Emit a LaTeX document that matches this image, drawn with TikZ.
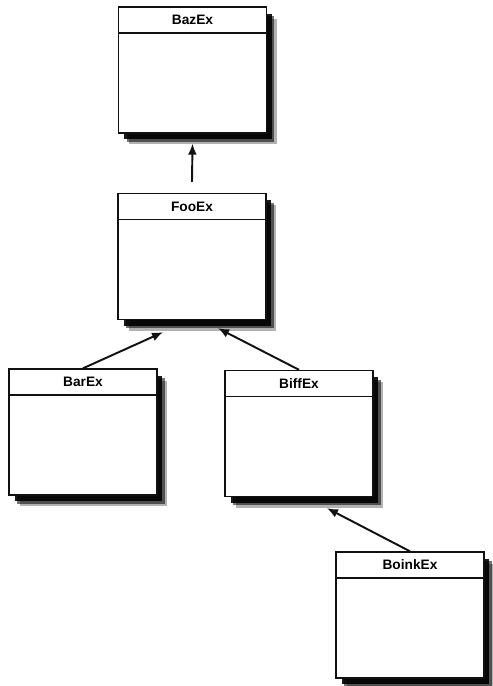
\documentclass[tikz,border=0pt]{standalone}
\usepackage{fontspec}
\setmainfont{Liberation Sans}
\usetikzlibrary{arrows.meta,positioning,shadows}
\definecolor{umlink}{HTML}{111111}
\tikzset{
  classbox/.style={draw=umlink,fill=white,line width=0.8pt,minimum width=2.96cm,minimum height=2.52cm,inner sep=0pt,
    drop shadow={shadow xshift=0.21cm,shadow yshift=-0.23cm,fill=black,opacity=0.3},
    drop shadow={shadow xshift=0.16cm,shadow yshift=-0.18cm,fill=black,opacity=0.55},
    drop shadow={shadow xshift=0.11cm,shadow yshift=-0.13cm,fill=black,opacity=0.9}},
  classname/.style={draw=umlink,line width=0.8pt,minimum width=2.96cm,minimum height=0.52cm,inner sep=0pt,anchor=north,font=\fontsize{7.8}{9}\selectfont\bfseries},
  inh/.style={-{Latex[length=2.2mm,width=1.8mm]},draw=umlink,line width=1.1pt},
}
\begin{document}
\begin{tikzpicture}[x=0.02cm,y=-0.02cm]
  \useasboundingbox (0,0) rectangle (493,686);
  % classes
  \node[classbox] (baz) at (192.5,70) {};
  \node[classname] (baztitle) at (baz.north) {BazEx};
  \node[classbox] (foo) at (192,256.5) {};
  \node[classname] (footitle) at (foo.north) {FooEx};
  \node[classbox] (bar) at (83,432) {};
  \node[classname] (bartitle) at (bar.north) {BarEx};
  \node[classbox] (biff) at (299,433.5) {};
  \node[classname] (bifftitle) at (biff.north) {BiffEx};
  \node[classbox] (boink) at (410,615) {};
  \node[classname] (boinktitle) at (boink.north) {BoinkEx};
  % inheritance
  \draw[inh] ([yshift=0.22cm]foo.north) -- ([yshift=-0.2cm]baz.south);
  \draw[inh] (bar.north) -- ([xshift=-0.58cm,yshift=-0.24cm]foo.south);
  \draw[inh] (biff.north) -- ([xshift=0.52cm,yshift=-0.16cm]foo.south);
  \draw[inh] (boink.north) -- ([xshift=0.56cm,yshift=-0.22cm]biff.south);
\end{tikzpicture}
\end{document}
